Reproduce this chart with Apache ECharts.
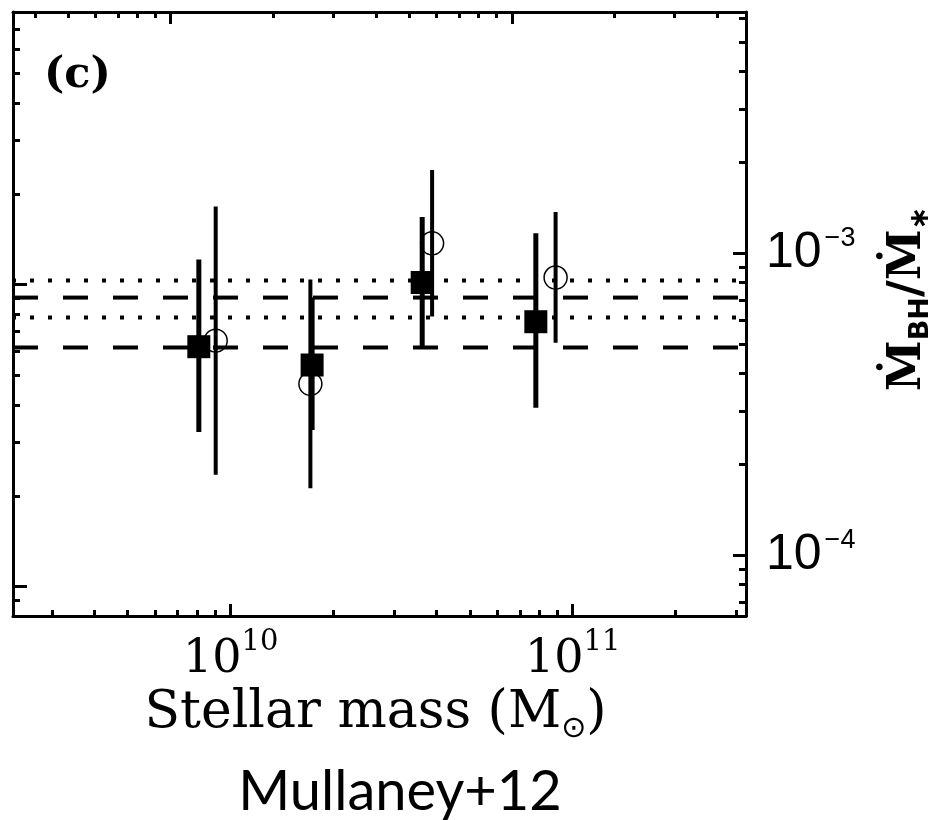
<!DOCTYPE html>
<html><head><meta charset="utf-8">
<script src="https://cdn.jsdelivr.net/npm/echarts@6/dist/echarts.min.js"></script>
<style>html,body{margin:0;padding:0;background:#fff}#c{width:942px;height:820px}</style>
</head><body><div id="c"></div><script>
// ---- data ----
const massSquares   = [8.07e9, 1.73e10, 3.63e10, 7.80e10];
const ratioSquares  = [4.91e-4, 4.27e-4, 8.01e-4, 5.94e-4];
const squaresErrHi  = [9.55e-4, 7.14e-4, 1.32e-3, 1.165e-3];
const squaresErrLo  = [2.56e-4, 2.60e-4, 4.91e-4, 3.08e-4];

const massCircles   = [9.04e9, 1.71e10, 3.88e10, 8.91e10];
const ratioCircles  = [5.14e-4, 3.70e-4, 1.08e-3, 8.32e-4];
const circlesErrHi  = [1.43e-3, 8.2e-4, 1.89e-3, 1.37e-3];
const circlesErrLo  = [1.85e-4, 1.67e-4, 6.18e-4, 5.06e-4];

const dashedLevels  = [7.14e-4, 4.88e-4];
const dottedLevels  = [8.13e-4, 6.13e-4];

// axis ranges and tick values
const xRange = [2.31e9, 3.21e11];
const xMajor = [1e10, 1e11];
const xMinor = [3e9,4e9,5e9,6e9,7e9,8e9,9e9,2e10,3e10,4e10,5e10,6e10,7e10,8e10,9e10,2e11,3e11];
const yRange = [6.3e-5, 6.3e-3];
const yMajor = [1e-4, 1e-3];
const yMinor = [7e-5,8e-5,9e-5,2e-4,3e-4,4e-4,5e-4,6e-4,7e-4,8e-4,9e-4,2e-3,3e-3,4e-3,5e-3,6e-3];
// secondary (unlabelled) axes: top and left
const topRange = [0.345, 48.6];
const topMajor = [1, 10];
const topMinor = [0.4,0.5,0.6,0.7,0.8,0.9,2,3,4,5,6,7,8,9,20,30,40];
const leftRange = [0.08, 8.0];
const leftMajor = [0.1, 1];
const leftMinor = [0.09,0.2,0.3,0.4,0.5,0.6,0.7,0.8,0.9,2,3,4,5,6,7];

const xTitle = '{a|Stellar mass (M}{o|⊙}{a|)}';
const yTitle = '{m|Ṁ}{s|BH}{m|/Ṁ}{s|∗}';
const panelLabel = '(c)';
const caption = 'Mullaney+12';

const chart = echarts.init(document.getElementById('c'), null, {renderer: 'canvas'});

function tickAxis(pos, range, values, len, showLine) {
  return {
    type: 'log', position: pos, min: range[0], max: range[1],
    axisLine: {show: showLine, onZero: false, lineStyle: {color: '#000', width: 3}},
    axisTick: {show: true, inside: true, length: len, customValues: values,
               lineStyle: {color: '#000', width: 3}},
    axisLabel: {show: false}, splitLine: {show: false}, minorTick: {show: false}
  };
}

const xBottomMajor = tickAxis('bottom', xRange, xMajor, 12, true);
xBottomMajor.axisLabel = {
  show: true, customValues: xMajor, margin: 12,
  formatter: v => '{b|10}{s|' + Math.round(Math.log10(v)) + '}',
  rich: {
    b: {fontFamily: 'DejaVu Serif', fontSize: 46, color: '#000', lineHeight: 64},
    s: {fontFamily: 'DejaVu Serif', fontSize: 29, color: '#000', lineHeight: 22, verticalAlign: 'top'}
  }
};
xBottomMajor.name = xTitle;
xBottomMajor.nameLocation = 'middle';
xBottomMajor.nameGap = 66;
xBottomMajor.nameTextStyle = {
  padding: [0, 8, 0, 0],
  rich: {
    a: {fontFamily: 'DejaVu Serif', fontSize: 52, color: '#000', lineHeight: 60},
    o: {fontFamily: 'DejaVu Sans', fontSize: 30, color: '#000', lineHeight: 48, verticalAlign: 'bottom'}
  }
};

const yRightMajor = tickAxis('right', yRange, yMajor, 13, true);
yRightMajor.axisLabel = {
  show: true, customValues: yMajor, margin: 20,
  formatter: v => '{b|10}{s|−' + Math.abs(Math.round(Math.log10(v))) + '}',
  rich: {
    b: {fontFamily: 'Liberation Sans', fontSize: 50, color: '#000', lineHeight: 56},
    s: {fontFamily: 'Liberation Sans', fontSize: 27, color: '#000', lineHeight: 30, verticalAlign: 'top', padding: [0, 0, 0, 3]}
  }
};
yRightMajor.name = yTitle;
yRightMajor.nameLocation = 'middle';
yRightMajor.nameRotate = 90;
yRightMajor.nameGap = 136;
yRightMajor.nameTextStyle = {
  padding: [0, 0, 0, 30],
  rich: {
    m: {fontFamily: 'DejaVu Serif', fontWeight: 'bold', fontSize: 46, color: '#000', lineHeight: 52},
    s: {fontFamily: 'DejaVu Sans', fontWeight: 'bold', fontSize: 27, color: '#000', lineHeight: 34, verticalAlign: 'bottom'}
  }
};

function errorBars(xs, lo, hi, width) {
  return {
    type: 'custom', xAxisIndex: 0, yAxisIndex: 0, z: 3,
    data: xs.map((x, i) => [x, lo[i], hi[i]]),
    encode: {x: 0, y: [1, 2]},
    renderItem: (params, api) => {
      const a = api.coord([api.value(0), api.value(1)]);
      const b = api.coord([api.value(0), api.value(2)]);
      return {type: 'line', shape: {x1: a[0], y1: a[1], x2: b[0], y2: b[1]},
              style: {stroke: '#000', lineWidth: width}};
    }
  };
}

// horizontal reference levels: a line across the full x range at each level
function levelLine(v, dash, offset) {
  return {
    type: 'line', xAxisIndex: 0, yAxisIndex: 0, z: 2, silent: true,
    symbol: 'none', showSymbol: false,
    lineStyle: {color: '#000', width: 4, type: dash, dashOffset: offset, cap: 'butt'},
    data: [[xRange[0], v], [xRange[1], v]]
  };
}

const option = {
  backgroundColor: '#fff',
  animation: false,
  grid: {left: 13, right: 194, top: 12, bottom: 204, containLabel: false},
  xAxis: [
    xBottomMajor,
    tickAxis('bottom', xRange, xMinor, 6, false),
    tickAxis('top', topRange, topMajor, 12, true),
    tickAxis('top', topRange, topMinor, 6, false)
  ],
  yAxis: [
    yRightMajor,
    tickAxis('right', yRange, yMinor, 7, false),
    tickAxis('left', leftRange, leftMajor, 14, true),
    tickAxis('left', leftRange, leftMinor, 7, false)
  ],
  graphic: [
    {type: 'text', left: 44, top: 54, style: {text: panelLabel, fontFamily: 'DejaVu Serif', fontWeight: 'bold', fontSize: 43, fill: '#000'}},
    {type: 'text', x: 400, y: 792, style: {text: caption, fontFamily: 'Lato', fontSize: 56, fill: '#000', align: 'center', verticalAlign: 'middle'}}
  ],
  series: dashedLevels.map(v => levelLine(v, [25, 25], 0))
    .concat(dottedLevels.map(v => levelLine(v, [4, 14], 1)))
    .concat([
    errorBars(massSquares, squaresErrLo, squaresErrHi, 5),
    errorBars(massCircles, circlesErrLo, circlesErrHi, 4),
    {
      type: 'scatter', xAxisIndex: 0, yAxisIndex: 0, z: 4,
      symbol: 'rect', symbolSize: 23,
      itemStyle: {color: '#000', opacity: 1},
      data: massSquares.map((x, i) => [x, ratioSquares[i]])
    },
    {
      type: 'scatter', xAxisIndex: 0, yAxisIndex: 0, z: 4,
      symbol: 'circle', symbolSize: 23,
      itemStyle: {color: 'rgba(0,0,0,0)', borderColor: '#000', borderWidth: 1.5, opacity: 1},
      data: massCircles.map((x, i) => [x, ratioCircles[i]])
    }
  ])
};
chart.setOption(option);
</script></body></html>
